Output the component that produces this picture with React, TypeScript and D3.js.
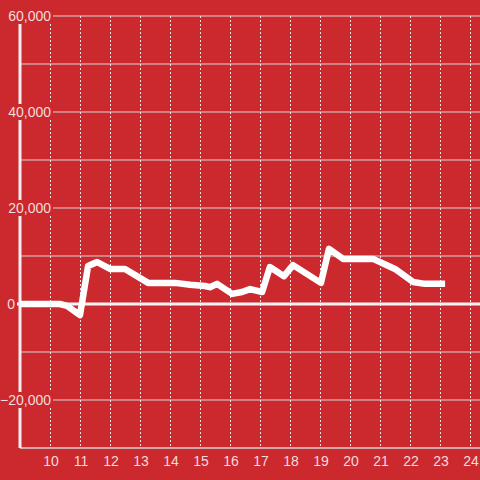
import React from "react";
import * as d3 from "d3";

const xValues = [9, 10.33, 10.57, 11.0, 11.27, 11.57, 12.0, 12.5, 13.27, 14.17, 14.67, 15.17, 15.33, 15.57, 16.07, 16.4, 16.67, 17.07, 17.33, 17.8, 18.1, 19.03, 19.3, 19.77, 20.77, 21.5, 22.1, 22.5, 23.17];
const yValues = [0, 0, -400, -2300, 7900, 8750, 7300, 7300, 4400, 4400, 4000, 3750, 3500, 4200, 2100, 2500, 3100, 2500, 7700, 5800, 8100, 4400, 11500, 9400, 9400, 7300, 4600, 4200, 4200];
const xTicks = [10, 11, 12, 13, 14, 15, 16, 17, 18, 19, 20, 21, 22, 23, 24];
const yLabelTicks = [60000, 40000, 20000, 0, -20000];
const yGridTicks = [60000, 50000, 40000, 30000, 20000, 10000, -10000, -20000];

const W = 480;
const H = 480;
const BG = "#cc292e";
const FONT = "'Liberation Sans', Arial, sans-serif";

export default function App() {
  const x = d3.scaleLinear().domain([9, 24.333]).range([20, 480]);
  const y = d3.scaleLinear().domain([-30000, 60000]).range([448, 16]);
  const fmt = d3.format(",");
  const pts: [number, number][] = xValues.map((v, i) => [v, yValues[i]]);
  const line = d3
    .line<[number, number]>()
    .x((d) => x(d[0]))
    .y((d) => y(d[1]));

  return (
    <svg
      width={W}
      height={H}
      style={{ position: "absolute", left: 0, top: 0, display: "block" }}
    >
      <rect x={0} y={0} width={W} height={H} fill={BG} />
      {yGridTicks.map((t) => (
        <line key={"h" + t} x1={20} x2={480} y1={y(t)} y2={y(t)} stroke="#d6d6d6" strokeWidth={1} />
      ))}
      {xTicks.map((t) => (
        <line
          key={"v" + t}
          x1={x(t) + 0.5}
          x2={x(t) + 0.5}
          y1={16}
          y2={448}
          stroke="#e6e6e6"
          strokeWidth={1}
          strokeDasharray="2,2"
        />
      ))}
      <line x1={20} x2={480} y1={448} y2={448} stroke="#d6d6d6" strokeWidth={1.5} />
      <line x1={20} x2={20} y1={16} y2={448} stroke="#f0f0f0" strokeWidth={3} />
      <line x1={17} x2={480} y1={y(0)} y2={y(0)} stroke="#f4f4f4" strokeWidth={3} />
      {yLabelTicks.map((t) => {
        const ax = t === 0 ? 16 : 52;
        const bx = t === 0 ? 6 : 2;
        return (
          <g key={"yl" + t}>
            <rect x={bx} y={y(t) - 8} width={ax - bx + 1} height={16} fill={BG} />
            <text
              x={ax - 1}
              y={y(t)}
              dy="0.35em"
              textAnchor="end"
              fontFamily={FONT}
              fontSize={14}
              fill="#f2dcdc"
            >
              {fmt(t)}
            </text>
          </g>
        );
      })}
      {xTicks.map((t) => (
        <text
          key={"xl" + t}
          x={x(t) + 1}
          y={466}
          textAnchor="middle"
          fontFamily={FONT}
          fontSize={14}
          fill="#f2dcdc"
        >
          {t}
        </text>
      ))}
      <path
        d={line(pts) || ""}
        fill="none"
        stroke="#ffffff"
        strokeWidth={6.5}
        strokeLinejoin="round"
      />
    </svg>
  );
}
